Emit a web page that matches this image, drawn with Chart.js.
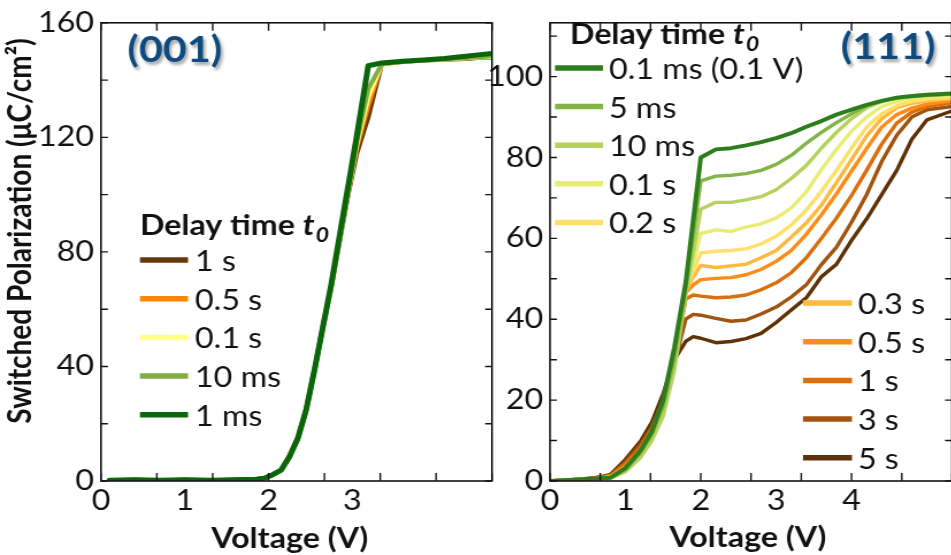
<!DOCTYPE html>
<html><head><meta charset="utf-8">
<script src="https://cdn.jsdelivr.net/npm/chart.js@4.4.1/dist/chart.umd.min.js"></script>
<style>
html,body{margin:0;padding:0;background:#fff;overflow:hidden;width:951px;height:555px;position:relative}
.wrap{position:absolute;top:0;transform-origin:0 0;transform:scaleX(1.15)}
#wl{left:0;width:435px;height:555px}
#wr{left:488px;width:409px;height:555px}
canvas{display:block}
</style></head><body>
<div class="wrap" id="wl"><canvas id="cl" width="435" height="555"></canvas></div>
<div class="wrap" id="wr"><canvas id="cr" width="409" height="555"></canvas></div>
<script>
// ---------- (001) panel data ----------
const voltage001 = [0.1,0.4,0.7,1.0,1.3,1.6,1.85,1.95,2.05,2.15,2.25,2.35,2.45,2.55,2.65,2.75,2.85,2.95,3.05,3.19,3.35,3.6,3.85,4.1,4.35,4.5,4.67];
const p001_1s   = [0.3,0.4,0.3,0.4,0.3,0.4,0.6,1.0,2.3,4.0,8.8,15.3,25.3,39.3,54.3,68,84,100,114,127,145.5,146.3,146.8,147.1,147.4,147.7,147.9];
const p001_05s  = [0.3,0.4,0.3,0.4,0.3,0.4,0.6,1.0,2.2,3.8,8.5,15,25,39,54,68,85,100.5,116,131,145.5,146.4,146.9,147.2,147.5,147.8,148];
const p001_01s  = [0.3,0.4,0.3,0.4,0.3,0.4,0.6,1.0,2.1,3.7,8.3,14.7,24.7,38.7,53.7,67.5,85,101,117,134,145.5,146.4,146.9,147.2,147.6,147.9,148.1];
const p001_10ms = [0.3,0.4,0.3,0.4,0.3,0.4,0.6,1.0,2.1,3.7,8.2,14.5,24.5,38.5,53.5,67.5,85,101,118,137,145.5,146.5,147,147.3,147.7,148,148.3];
const p001_1ms  = [0.3,0.4,0.3,0.4,0.3,0.4,0.6,1.0,2.2,3.8,8.5,15,25,39,54,69,86,103,120,145,146,146.6,147,147.5,148.3,148.8,149.3];
const labels001 = ['1 s','0.5 s','0.1 s','10 ms','1 ms'];
const colors001 = ['#66380c','#ff8400','#ffff8a','#7fae45','#0b650b'];
const xLabels001 = [0,1,2,3];
const yLabels001 = [0,40,80,120,160];
const xMinor001 = [0,0.6667,1.3333,2,2.6667,3.3333,4,4.6667];
const yMinor001 = [0,20,40,60,80,100,120,140,160];

// ---------- (111) panel data ----------
const voltage111 = [0,0.3,0.6,0.8,1.0,1.2,1.35,1.5,1.65,1.8,1.9,2.0,2.2,2.4,2.6,2.8,3.0,3.2,3.4,3.6,3.8,4.0,4.2,4.4,4.6,4.8,5.0,5.33];
const p111_01ms = [0,0.3,0.6,0.8,3.2,7.5,12.2,20,33,49,64.5,80,82,82.3,83,83.8,84.8,86,87.6,89,90.6,91.8,93,94,94.8,95.2,95.5,95.8];
const p111_5ms  = [0,0.3,0.6,0.8,2.8,7,11.5,18.5,30.5,47.5,61,74.2,75.4,75.6,76,76.8,78.3,80.5,83.5,86.2,88.6,90.8,92.8,94,94.7,95.1,95.4,95.7];
const p111_10ms = [0,0.3,0.5,0.6,2.3,5.8,10,16,27.5,46,56.5,67.2,68.9,68.9,69.5,70.3,72,74.8,78,82.3,86.2,89.6,92.3,93.8,94.6,95,95.3,95.6];
const p111_01s  = [0,0.3,0.6,0.8,2.6,6.3,10.5,17,28.5,47,54,61.2,62.1,61.7,62.8,63.6,65,67.5,71.5,77,82,86.5,90,92.6,93.8,94.5,95,95.3];
const p111_02s  = [0,0.3,0.6,0.9,3,6.8,11,17.5,29,47.5,52,56.4,56.8,57,57.4,58.6,60.5,63.3,67,71.6,76.8,82.3,87.5,90.8,92.8,93.8,94.4,94.8];
const p111_03s  = [0,0.3,0.6,1,3.3,7.2,11.5,18,29.5,47,50.5,53.3,52.8,53.2,53.6,55.2,57,60.3,63.8,68.2,73.8,79.5,85.3,89.6,92.3,93.4,94,94.5];
const p111_05s  = [0,0.3,0.6,1.1,3.6,7.6,12,18.5,29.5,46.5,48.5,49.8,50.1,50.3,51,52.3,54.3,57,61,65.8,71,76.6,82.2,87.5,90.6,92.2,93.2,94];
const p111_1s   = [0,0.3,0.7,1.3,4.2,8.3,12.8,19,29.5,45,46,45.7,45.3,45.5,46,47.3,49,51.5,55.2,60,65,70.6,76.8,83.3,88.5,91.2,92.6,93.5];
const p111_3s   = [0,0.3,0.7,1.4,4.7,9,13.3,20,29,40,41.2,41,40.2,39.5,39.8,41.3,43,45.5,48.5,53.5,57.8,64,70.8,79,85.5,90,91.8,92.6];
const p111_5s   = [0,0.3,0.8,1.6,5.3,9.8,14.5,21.5,30,34.5,35.7,35.3,34.2,34.5,35.2,36.5,39.2,42.3,45.3,50.5,53.6,59.5,64.8,70.8,76.8,84.5,89.3,91.5];
const labels111 = ['0.1 ms (0.1 V)','5 ms','10 ms','0.1 s','0.2 s','0.3 s','0.5 s','1 s','3 s','5 s'];
const colors111 = ['#2e7d1c','#82b448','#b6d25c','#e8ee74','#ffe068','#ffb93e','#ff8c16','#dc6e0c','#a0540f','#5f3206'];
const xLabels111 = [0,1,2,3,4];
const yLabels111 = [0,20,40,60,80,100];
const xMinor111 = [0,0.6667,1.3333,2,2.6667,3.3333,4,4.6667,5.3333];
const yMinor111 = [0,10,20,30,40,50,60,70,80,90,100,110];

const FONT = 'Lato';

const framePlugin = {
  id: 'frame',
  afterDatasetsDraw(chart, args, o) {
    const ctx = chart.ctx, a = chart.chartArea, xs = chart.scales.x, ys = chart.scales.y;
    ctx.save();
    ctx.strokeStyle = '#151515'; ctx.lineWidth = 1.6;
    ctx.strokeRect(a.left, a.top, a.right - a.left, a.bottom - a.top);
    ctx.lineWidth = 1.4;
    ctx.beginPath();
    o.xMinor.forEach(v => { const p = xs.getPixelForValue(v);
      ctx.moveTo(p, a.bottom); ctx.lineTo(p, a.bottom - 8);
      ctx.moveTo(p, a.top); ctx.lineTo(p, a.top + 8); });
    o.yMinor.forEach(v => { const p = ys.getPixelForValue(v);
      ctx.moveTo(a.left, p); ctx.lineTo(a.left + 6, p);
      ctx.moveTo(a.right, p); ctx.lineTo(a.right - 6, p); });
    ctx.stroke();
    ctx.restore();
  }
};

function drawTitle(ctx, x, y) {
  ctx.textBaseline = 'alphabetic'; ctx.textAlign = 'left'; ctx.fillStyle = '#111';
  ctx.font = 'bold 28px ' + FONT;
  const s = 'Delay time ';
  ctx.fillText(s, x, y);
  let w = ctx.measureText(s).width;
  ctx.font = 'italic bold 28px ' + FONT;
  ctx.fillText('t', x + w, y);
  w += ctx.measureText('t').width;
  ctx.font = 'italic bold 20px ' + FONT;
  ctx.fillText('0', x + w + 1, y + 7);
}

const decoPlugin = {
  id: 'deco',
  afterDatasetsDraw(chart, args, o) {
    const ctx = chart.ctx, ds = chart.data.datasets;
    ctx.save();
    o.legends.forEach(L => {
      if (L.title) drawTitle(ctx, L.title[0], L.title[1]);
      L.items.forEach((idx, k) => {
        const y = L.y0 + k * L.dy;
        ctx.strokeStyle = ds[idx].borderColor; ctx.lineWidth = 5.5; ctx.lineCap = 'butt';
        ctx.beginPath(); ctx.moveTo(L.sx0, y); ctx.lineTo(L.sx1, y); ctx.stroke();
        ctx.fillStyle = '#111'; ctx.font = '28px ' + FONT; ctx.textAlign = 'left'; ctx.textBaseline = 'alphabetic';
        ctx.fillText(ds[idx].label, L.tx, y + 11);
      });
    });
    // panel label
    ctx.font = 'bold 36px ' + FONT; ctx.textAlign = 'center'; ctx.textBaseline = 'middle';
    ctx.shadowColor = 'rgba(0,0,0,0.35)'; ctx.shadowOffsetX = 2; ctx.shadowOffsetY = 3; ctx.shadowBlur = 3;
    ctx.fillStyle = '#0e4a7e';
    ctx.fillText(o.panel[0], o.panel[1], o.panel[2]);
    ctx.shadowColor = 'transparent';
    // axis titles
    ctx.fillStyle = '#111'; ctx.font = 'bold 28px ' + FONT; ctx.textAlign = 'center'; ctx.textBaseline = 'alphabetic';
    ctx.fillText(o.xTitle[0], o.xTitle[1], o.xTitle[2]);
    if (o.yTitle) {
      ctx.save(); ctx.translate(o.yTitle[1], o.yTitle[2]); ctx.rotate(-Math.PI / 2);
      ctx.textBaseline = 'middle'; ctx.fillText(o.yTitle[0], 0, 0); ctx.restore();
    }
    ctx.restore();
  }
};

function makeChart(id, c) {
  const datasets = c.series.map((vals, i) => ({
    label: c.labels[i],
    data: c.volt.map((v, j) => ({ x: v, y: vals[j] })),
    borderColor: c.colors[i], borderWidth: c.widths[i],
    pointRadius: 0, tension: 0, fill: false,
    borderJoinStyle: 'round', borderCapStyle: 'round', order: c.order[i]
  }));
  const tickFont = { family: FONT, size: 28 };
  return new Chart(document.getElementById(id), {
    type: 'line',
    data: { datasets },
    options: {
      responsive: false, animation: false, devicePixelRatio: 1,
      layout: { autoPadding: false, padding: { left: 0, top: 11, right: c.padRight, bottom: 0 } },
      plugins: { legend: { display: false }, tooltip: { enabled: false },
        frame: { xMinor: c.xMinor, yMinor: c.yMinor }, deco: c.deco },
      scales: {
        x: { type: 'linear', min: 0, max: c.xMax,
          grid: { display: false, drawTicks: false }, border: { display: false },
          afterBuildTicks: s => { s.ticks = c.xLabels.map(v => ({ value: v })); },
          afterFit: s => { s.height = 74; },
          ticks: { font: tickFont, color: '#111', padding: 3, autoSkip: false, maxRotation: 0, minRotation: 0 } },
        y: { type: 'linear', min: 0, max: c.yMax,
          grid: { display: false, drawTicks: false }, border: { display: false },
          afterBuildTicks: s => { s.ticks = c.yLabels.map(v => ({ value: v })); },
          afterFit: s => { s.width = c.padLeft; },
          ticks: { font: tickFont, color: '#111', padding: 6, autoSkip: false } }
      }
    },
    plugins: [framePlugin, decoPlugin]
  });
}

makeChart('cl', {
  volt: voltage001,
  series: [p001_1s, p001_05s, p001_01s, p001_10ms, p001_1ms],
  labels: labels001, colors: colors001,
  widths: [4, 4, 4, 4, 5],
  order: [4, 3, 2, 1, 0],
  xMax: 4.6667, yMax: 160, xLabels: xLabels001, yLabels: yLabels001,
  xMinor: xMinor001, yMinor: yMinor001,
  padLeft: 87.8, padRight: 7.2,
  deco: {
    legends: [{ title: [121.7, 235], items: [0, 1, 2, 3, 4], y0: 260, dy: 38.7, sx0: 121.7, sx1: 163.5, tx: 169.6 }],
    panel: ['(001)', 152, 50],
    xTitle: ['Voltage (V)', 252, 548],
    yTitle: ['Switched Polarization (μC/cm²)', 18, 231]
  }
});

makeChart('cr', {
  volt: voltage111,
  series: [p111_01ms, p111_5ms, p111_10ms, p111_01s, p111_02s, p111_03s, p111_05s, p111_1s, p111_3s, p111_5s],
  labels: labels111, colors: colors111,
  widths: [4, 3.4, 3.4, 3.4, 3.4, 3.4, 3.4, 3.4, 3.4, 3.4],
  order: [0, 1, 2, 3, 4, 5, 6, 7, 8, 9],
  xMax: 5.3333, yMax: 113.3, xLabels: xLabels111, yLabels: yLabels111,
  xMinor: xMinor111, yMinor: yMinor111,
  padLeft: 53.9, padRight: 5.5,
  deco: {
    legends: [
      { title: [71.3, 44], items: [0, 1, 2, 3, 4], y0: 68, dy: 38.6, sx0: 58.3, sx1: 100, tx: 105.2 },
      { items: [5, 6, 7, 8, 9], y0: 303, dy: 38.7, sx0: 273.9, sx1: 316.5, tx: 321.7 }
    ],
    panel: ['(111)', 348, 47],
    xTitle: ['Voltage (V)', 226, 547]
  }
});
</script></body></html>
